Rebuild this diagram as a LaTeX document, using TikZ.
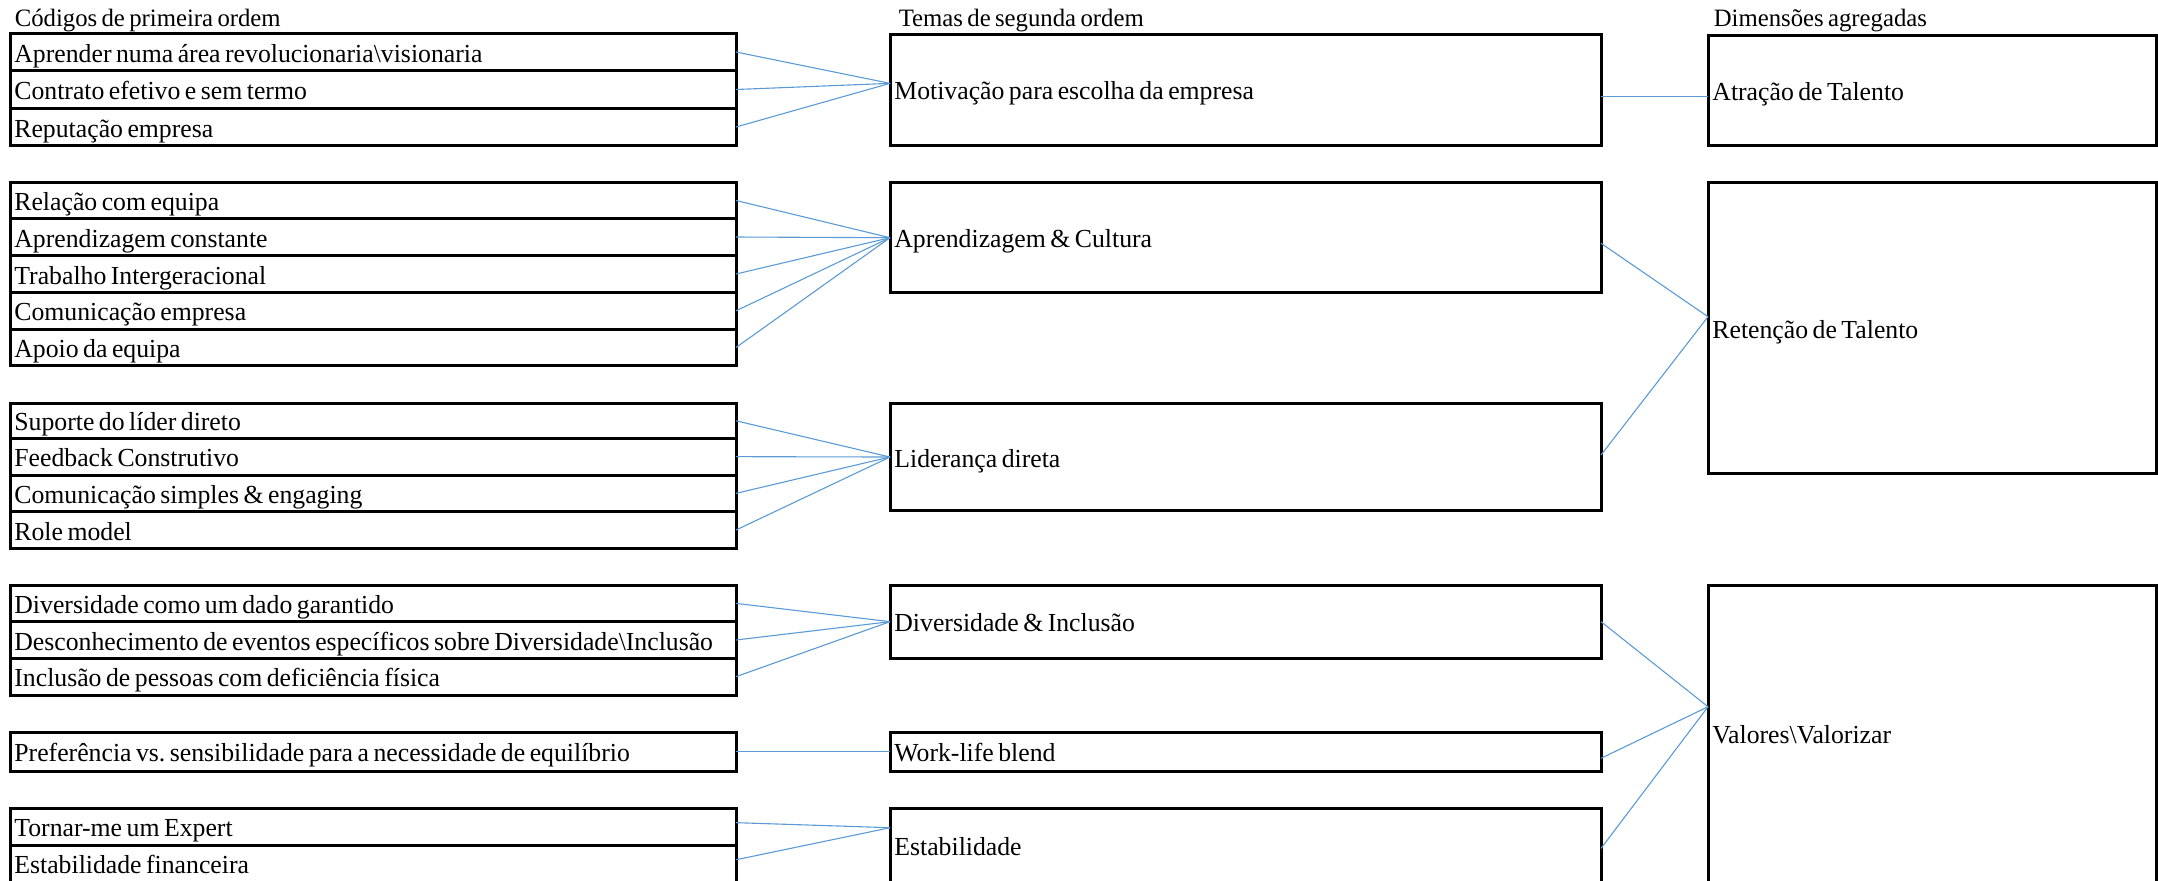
\documentclass[tikz,border=0pt]{standalone}
\usepackage{fontspec}
\setmainfont{Liberation Serif}[FakeStretch=0.99,WordSpace=0.7]
\frenchspacing
\usetikzlibrary{calc}
\definecolor{connblue}{RGB}{91,155,213}
\tikzset{
  cell/.style={draw=black, line width=1.5pt, rectangle, outer sep=0pt,
    inner xsep=2.2pt, inner ysep=0pt, text height=10pt, text depth=0pt,
    align=flush left, font=\fontsize{13}{15}\selectfont},
  lbox/.style={cell, minimum width=363pt, text width=358.6pt},
  mbox/.style={cell, minimum width=355.5pt, text width=351.1pt},
  rbox/.style={cell, minimum width=224pt, text width=219.6pt},
  hdr/.style={inner xsep=2.2pt, inner ysep=0pt, anchor=base west, font=\fontsize{12.5}{15}\selectfont},
  conn/.style={draw=connblue, line width=0.55pt}
}
\newcommand\Lcell[4]{\node[lbox, minimum height={(#3-#2)*0.5pt}] (#1) at (373,{(#2+#3)/2}) {#4};}
\newcommand\Mcell[4]{\node[mbox, minimum height={(#3-#2)*0.5pt}] (#1) at (1245.5,{(#2+#3)/2}) {#4};}
\newcommand\Rcell[4]{\node[rbox, minimum height={(#3-#2)*0.5pt}] (#1) at (1932,{(#2+#3)/2}) {#4};}
\begin{document}
\begin{tikzpicture}[x=0.5pt,y=-0.5pt]
\useasboundingbox (0,0) rectangle (2158,880);
\clip (0,0) rectangle (2158,880);
% headers
\node[hdr] (h1) at (10,26.7) {Códigos de primeira ordem};
\node[hdr] (h2) at (894,26.7) {Temas de segunda ordem};
\node[hdr] (h3) at (1709,26.7) {Dimensões agregadas};
% first-order codes
\Lcell{a1}{33.3}{70.7}{Aprender numa área revolucionaria\textbackslash visionaria}
\Lcell{a2}{70.7}{108.3}{Contrato efetivo e sem termo}
\Lcell{a3}{108.3}{145.7}{Reputação empresa}
\Lcell{b1}{182.7}{218.3}{Relação com equipa}
\Lcell{b2}{218.3}{255.7}{Aprendizagem constante}
\Lcell{b3}{255.7}{292.3}{Trabalho Intergeracional}
\Lcell{b4}{292.3}{329.3}{Comunicação empresa}
\Lcell{b5}{329.3}{365.7}{Apoio da equipa}
\Lcell{c1}{403.3}{438.3}{Suporte do líder direto}
\Lcell{c2}{438.3}{475}{Feedback Construtivo}
\Lcell{c3}{475}{511.7}{Comunicação simples \& engaging}
\Lcell{c4}{511.7}{548.3}{Role model}
\Lcell{d1}{585}{621.7}{Diversidade como um dado garantido}
\Lcell{d2}{621.7}{658.3}{Desconhecimento de eventos específicos sobre Diversidade\textbackslash Inclusão}
\Lcell{d3}{658.3}{695}{Inclusão de pessoas com deficiência física}
\Lcell{e1}{732}{771.7}{Preferência vs. sensibilidade para a necessidade de equilíbrio}
\Lcell{f1}{808.3}{845}{Tornar-me um Expert}
\Lcell{f2}{845}{882.5}{Estabilidade financeira}
% second-order themes
\Mcell{m1}{34}{145.7}{Motivação para escolha da empresa}
\Mcell{m2}{182.7}{292.7}{Aprendizagem \& Cultura}
\Mcell{m3}{403.3}{510.7}{Liderança direta}
\Mcell{m4}{585}{658.3}{Diversidade \& Inclusão}
\Mcell{m5}{732}{771.7}{Work-life blend}
\Mcell{m6}{808.3}{882.5}{Estabilidade}
% aggregate dimensions
\Rcell{r1}{35}{145.7}{Atração de Talento}
\Rcell{r2}{182.7}{473.3}{Retenção de Talento}
\Rcell{r3}{585}{882.5}{Valores\textbackslash Valorizar}
% connectors: codes -> themes
\foreach \s in {a1,a2,a3} \draw[conn] (\s.east) -- ($(m1.west)+(0,-6.5)$);
\foreach \s in {b1,b2,b3,b4,b5} \draw[conn] (\s.east) -- (m2.west);
\foreach \s in {c1,c2,c3,c4} \draw[conn] (\s.east) -- (m3.west);
\foreach \s in {d1,d2,d3} \draw[conn] (\s.east) -- (m4.west);
\draw[conn] (e1.east) -- (m5.west);
\foreach \s in {f1,f2} \draw[conn] ($(\s.east)+(0,-4)$) -- ($(m6.west)+(0,-17.7)$);
% connectors: themes -> dimensions
\draw[conn] ($(m1.east)+(0,6.8)$) -- ($(r1.west)+(0,6.3)$);
\draw[conn] ($(m2.east)+(0,5.6)$) -- ($(r2.west)+(0,-11.3)$);
\draw[conn] ($(m3.east)+(0,-2)$) -- ($(r2.west)+(0,-11.3)$);
\draw[conn] (m4.east) -- ($(r3.west)+(0,-27)$);
\draw[conn] ($(m5.east)+(0,6.4)$) -- ($(r3.west)+(0,-27)$);
\draw[conn] ($(m6.east)+(0,3)$) -- ($(r3.west)+(0,-27)$);
\end{tikzpicture}
\end{document}
